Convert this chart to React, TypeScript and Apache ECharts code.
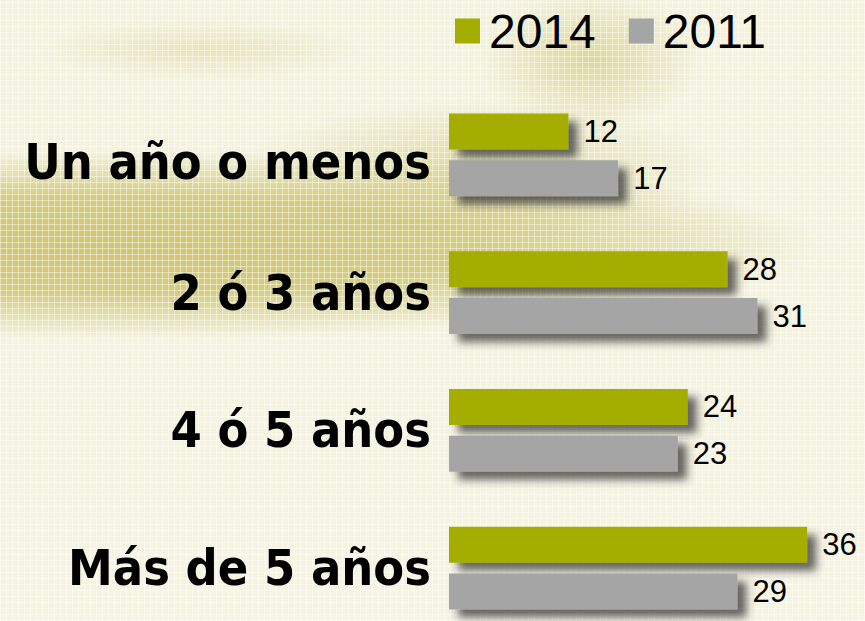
import React, { useEffect, useRef } from "react";
import * as echarts from "echarts";

const categories = ["Un año o menos", "2 ó 3 años", "4 ó 5 años", "Más de 5 años"];
const seriesNames = ["2014", "2011"];
const values2014 = [12, 28, 24, 36];
const values2011 = [17, 31, 23, 29];
const colors = ["#A3AE00", "#A5A5A5"];

export default function App() {
  const ref = useRef<HTMLDivElement>(null);
  useEffect(() => {
    document.body.style.margin = "0";
    const chart = echarts.init(ref.current!, null, { renderer: "svg" });
    const shadow = {
      shadowColor: "rgba(45,45,45,0.72)",
      shadowBlur: 9,
      shadowOffsetX: 9,
      shadowOffsetY: 8,
    };
    const label = {
      show: true,
      position: "right",
      distance: 15,
      color: "#000",
      fontSize: 31,
      fontFamily: "Liberation Sans, Arial, sans-serif",
    };
    const catFont = {
      fontSize: 50,
      fontWeight: "bold",
      color: "#000",
      fontFamily: '"DejaVu Sans Condensed", "DejaVu Sans", sans-serif',
    };
    chart.setOption({
      animation: false,
      backgroundColor: "transparent",
      legend: {
        left: 450,
        top: 2,
        icon: "rect",
        itemWidth: 25,
        itemHeight: 25,
        itemGap: 33,
        textStyle: {
          fontSize: 48,
          color: "#000",
          fontFamily: "Liberation Sans, Arial, sans-serif",
          padding: [0, 0, 0, 4],
        },
        data: seriesNames,
      },
      grid: { left: 449, top: 86, width: 398, height: 551, containLabel: false },
      xAxis: {
        type: "value",
        min: 0,
        max: 40,
        show: false,
      },
      yAxis: {
        type: "category",
        inverse: true,
        data: categories,
        axisLine: { show: false },
        axisTick: { show: false },
        axisLabel: {
          margin: 18,
          ...catFont,
          formatter: (v: string, i: number) => (i === 0 ? `{first|${v}}` : `{rest|${v}}`),
          rich: {
            first: { ...catFont, padding: [14, 0, 0, 0] },
            rest: { ...catFont },
          },
        },
      },
      series: [
        {
          name: seriesNames[0],
          type: "bar",
          data: values2014,
          barWidth: 36,
          barGap: "30%",
          itemStyle: { color: colors[0], ...shadow },
          label,
        },
        {
          name: seriesNames[1],
          type: "bar",
          data: values2011,
          barWidth: 36,
          barGap: "30%",
          itemStyle: { color: colors[1], ...shadow },
          label,
        },
      ],
    });
    return () => chart.dispose();
  }, []);

  const bg = [
    "repeating-linear-gradient(0deg, rgba(255,255,255,0.45) 0px, rgba(255,255,255,0.45) 1px, rgba(255,255,255,0) 1px, rgba(255,255,255,0) 6px)",
    "repeating-linear-gradient(90deg, rgba(255,255,255,0.45) 0px, rgba(255,255,255,0.45) 1px, rgba(255,255,255,0) 1px, rgba(255,255,255,0) 6px)",
    "radial-gradient(ellipse 700px 95px at 120px 245px, rgba(200,190,95,0.85) 0%, rgba(200,190,95,0.75) 50%, rgba(200,190,95,0) 100%)",
    "radial-gradient(ellipse 240px 70px at 480px 170px, rgba(205,196,110,0.55), rgba(205,196,110,0))",
    "radial-gradient(ellipse 110px 70px at 590px 60px, rgba(205,195,110,0.6), rgba(205,195,110,0))",
    "radial-gradient(ellipse 160px 30px at 200px 50px, rgba(215,205,130,0.4), rgba(215,205,130,0))",
    "linear-gradient(180deg, #F4F2DA 0%, #F6F4E0 100%)",
  ].join(", ");

  return (
    <div
      style={{
        position: "fixed",
        left: 0,
        top: 0,
        width: 865,
        height: 621,
        overflow: "hidden",
        background: bg,
      }}
    >
      <div ref={ref} style={{ width: 865, height: 660 }} />
    </div>
  );
}
